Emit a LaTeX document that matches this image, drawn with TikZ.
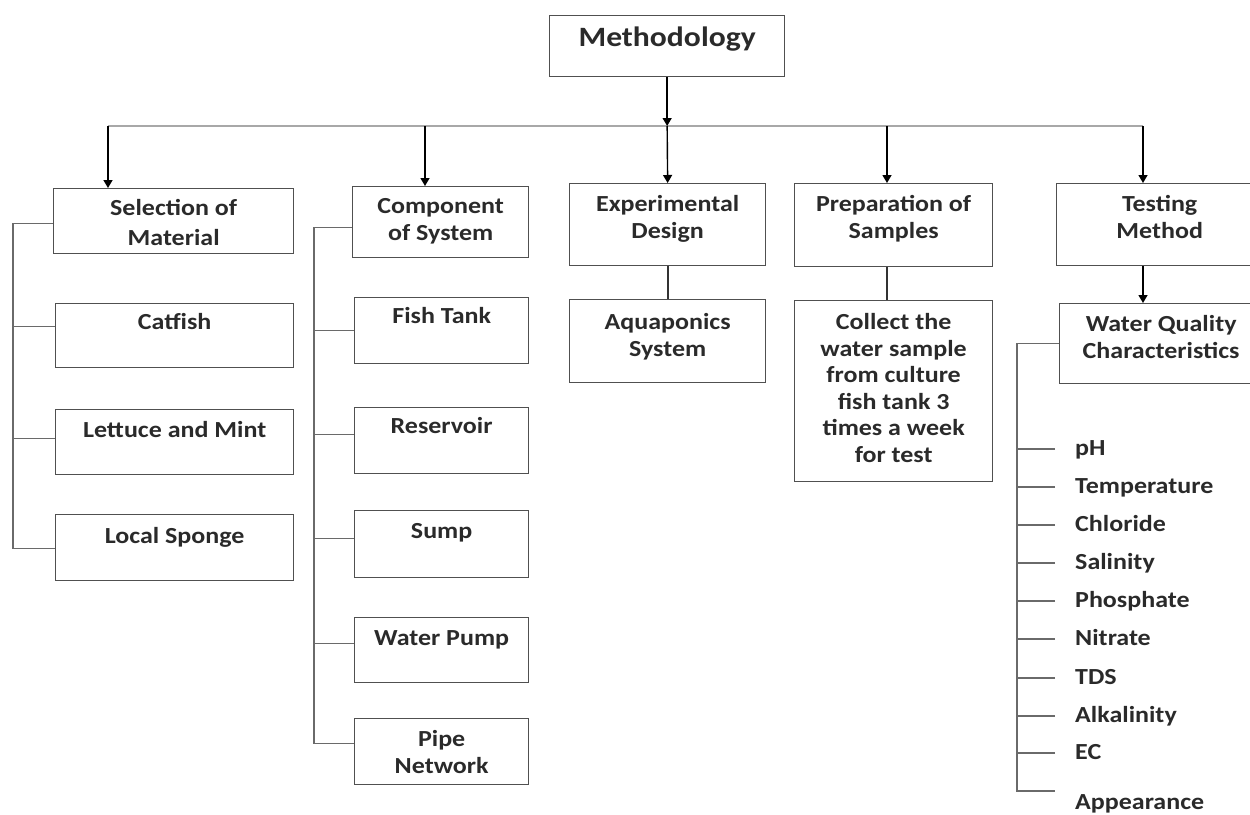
\documentclass[tikz,border=0pt]{standalone}
\usepackage{fontspec}
\setmainfont{Carlito}[FakeStretch=1.13]
\usetikzlibrary{arrows.meta}
\definecolor{boxc}{HTML}{505050}
\definecolor{txtc}{HTML}{2A2A2A}
\definecolor{busc}{HTML}{A8A8A8}
\definecolor{treec}{HTML}{6A6A6A}
\newcommand{\bxt}[4]{\parbox[c][#2pt][t]{#1pt}{\centering\rule{0pt}{#3pt}#4}}
\begin{document}
\begin{tikzpicture}[x=1pt,y=-1pt,
  font=\fontsize{23}{26.5}\selectfont\bfseries, text=txtc,
  boxsty/.style={draw=boxc, line width=1.3pt, inner sep=0pt, anchor=north west},
  arr/.style={draw=black, line width=1.4pt, -{Triangle[width=9pt,length=8pt]}},
  plain/.style={draw=black!80, line width=1.4pt},
  bus/.style={draw=busc, line width=2.6pt},
  tree/.style={draw=treec, line width=1.6pt},
  item/.style={anchor=west, inner xsep=20pt, inner ysep=0pt, text height=15pt, text depth=3pt}]
\useasboundingbox (0,0) rectangle (1250,814);

% top
\node[boxsty] (meth) at (549,15) {\fontsize{28}{30}\selectfont\bxt{235}{61}{31}{Methodology}};

% bus coordinates
\coordinate (b1) at (108,126);
\coordinate (b2) at (425,126);
\coordinate (b3) at (668,126);
\coordinate (b4) at (887,126);
\coordinate (b5) at (1143,126);

% level 1 boxes
\node[boxsty] (sel)  at (53,188)   {\bxt{240}{65}{27}{Selection of\\[3.5pt]Material}};
\node[boxsty] (comp) at (352,186)  {\bxt{176}{71}{27}{Component\\of System}};
\node[boxsty] (exp)  at (569,183)  {\bxt{196}{82}{28}{Experimental\\Design}};
\node[boxsty] (prep) at (794,183)  {\bxt{198}{83}{28}{Preparation of\\Samples}};
\node[boxsty] (test) at (1056,183) {\bxt{206}{82}{28}{Testing\\Method}};

% Selection of material children
\node[boxsty] (cat) at (55,303) {\bxt{238}{64}{26}{Catfish}};
\node[boxsty] (let) at (55,409) {\bxt{238}{65}{28}{Lettuce and Mint}};
\node[boxsty] (loc) at (55,514) {\bxt{238}{66}{29}{Local Sponge}};

% Component of system children
\node[boxsty] (fish) at (354,297) {\bxt{174}{66}{26}{Fish Tank}};
\node[boxsty] (res)  at (354,407) {\bxt{174}{66}{26}{Reservoir}};
\node[boxsty] (sump) at (354,510) {\bxt{174}{67}{28}{Sump}};
\node[boxsty] (pump) at (354,617) {\bxt{174}{65}{28}{Water Pump}};
\node[boxsty] (pipe) at (354,718) {\bxt{174}{66}{28}{Pipe\\Network}};

% Experimental design child
\node[boxsty] (aqua) at (569,299) {\bxt{196}{83}{30}{Aquaponics\\System}};

% Preparation child
\node[boxsty] (coll) at (794,300) {\bxt{198}{181}{29}{Collect the\\water sample\\from culture\\fish tank 3\\times a week\\for test}};

% Testing child
\node[boxsty] (wqc) at (1059,303) {\bxt{203}{80}{28}{Water Quality\\Characteristics}};

% WQC items
\node[item] (i1) at (1055,449) {pH};
\node[item] (i2) at (1055,487) {Temperature};
\node[item] (i3) at (1055,525) {Chloride};
\node[item] (i4) at (1055,563) {Salinity};
\node[item] (i5) at (1055,601) {Phosphate};
\node[item] (i6) at (1055,639) {Nitrate};
\node[item] (i7) at (1055,678) {TDS};
\node[item] (i8) at (1055,716) {Alkalinity};
\node[item] (i9) at (1055,753) {EC};
\coordinate (a10) at (1055,791);
\node[item] (i10) at (1055,803) {Appearance};

% connectors: top
\draw[bus] (b1) -- (b5);
\draw[arr] (meth.south) -- (meth.south |- b3);
\draw[arr] (meth.south |- b3) -- (exp.north);
\draw[arr] (b1) -- (b1 |- sel.north);
\draw[arr] (b2) -- (b2 |- comp.north);
\draw[arr] (b4) -- (b4 |- prep.north);
\draw[arr] (b5) -- (b5 |- test.north);

% selection tree
\draw[tree] ([yshift=-2.5pt]sel.west) -- ++(-40,0) |- ([yshift=-1pt]loc.west);
\draw[tree] ([yshift=9pt]cat.west) -- ++(-42,0);
\draw[tree] ([yshift=3.5pt]let.west) -- ++(-42,0);

% component tree
\draw[tree] ([yshift=-5.5pt]comp.west) -- ++(-38,0) |- ([yshift=8pt]pipe.west);
\draw[tree] (fish.west) -- ++(-40,0);
\draw[tree] ([yshift=6pt]res.west) -- ++(-40,0);
\draw[tree] ([yshift=5.5pt]sump.west) -- ++(-40,0);
\draw[tree] ([yshift=6.5pt]pump.west) -- ++(-40,0);

% experimental / preparation / testing
\draw[plain] (exp.south -| b3) -- (aqua.north -| b3);
\draw[plain] (prep.south -| b4) -- (coll.north -| b4);
\draw[arr] (test.south -| b5) -- (wqc.north -| b5);

% WQC tree
\draw[tree] (wqc.west) -- ++(-42,0) |- (a10);
\foreach \n in {i1,i2,i3,i4,i5,i6,i7,i8,i9}
  \draw[tree] (\n.west) -- ++(-38,0);
\end{tikzpicture}
\end{document}
